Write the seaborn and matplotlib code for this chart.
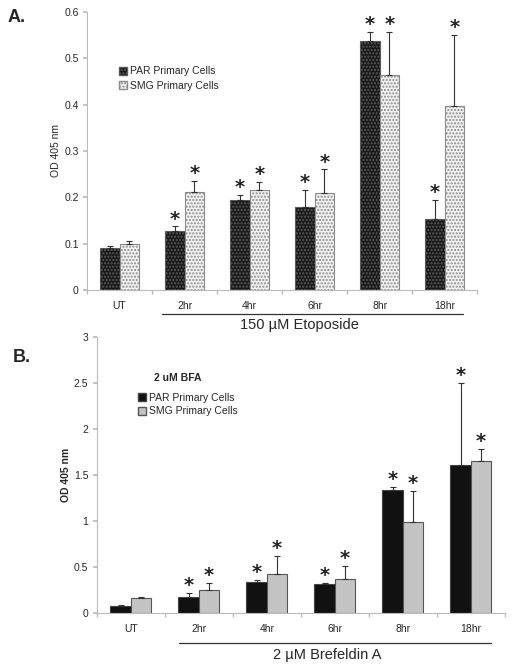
import matplotlib
matplotlib.use("Agg")
import matplotlib.pyplot as plt
import seaborn as sns
import pandas as pd
from matplotlib.lines import Line2D
from matplotlib.patches import Patch

# Panel A: 150 uM Etoposide
times = ["UT", "2hr", "4hr", "6hr", "8hr", "18hr"]
series = ["PAR Primary Cells", "SMG Primary Cells"]
a_par = [0.090, 0.127, 0.194, 0.178, 0.538, 0.153]
a_par_err = [0.005, 0.010, 0.012, 0.038, 0.018, 0.041]
a_smg = [0.100, 0.211, 0.215, 0.210, 0.465, 0.397]
a_smg_err = [0.006, 0.025, 0.018, 0.050, 0.092, 0.153]
a_star = [False, True, True, True, True, True]

# Panel B: 2 uM Brefeldin A
b_par = [0.083, 0.174, 0.344, 0.319, 1.340, 1.610]
b_par_err = [0.005, 0.047, 0.020, 0.012, 0.030, 0.890]
b_smg = [0.163, 0.257, 0.424, 0.373, 0.993, 1.656]
b_smg_err = [0.015, 0.073, 0.200, 0.140, 0.340, 0.134]
b_star = [False, True, True, True, True, True]

sns.set_theme(style="white")
plt.rcParams["font.family"] = ["Liberation Sans", "DejaVu Sans"]


def make_df(par, smg):
    return pd.DataFrame({
        "Time": times * 2,
        "Cells": [series[0]] * len(times) + [series[1]] * len(times),
        "OD": par + smg,
    })


def draw_panel(ax, par, par_err, smg, smg_err, stars, styles, ymax, yticks,
               ylabel_bold, star_off):
    df = make_df(par, smg)
    sns.barplot(data=df, x="Time", y="OD", hue="Cells", order=times,
                hue_order=series, errorbar=None, width=0.6, ax=ax,
                legend=False)
    for cont, vals, errs, st in zip(ax.containers, [par, smg],
                                    [par_err, smg_err], styles):
        for patch in cont:
            patch.set_facecolor(st["fc"])
            patch.set_edgecolor(st["ec"])
            patch.set_hatch(st["hatch"])
            patch.set_linewidth(0.8)
        xs = [p.get_x() + p.get_width() / 2 for p in cont]
        ax.errorbar(xs, vals, yerr=[[0] * len(vals), errs], fmt="none",
                    ecolor="#333333", elinewidth=0.8, capsize=2.5,
                    capthick=0.8)
        for x, v, e, s in zip(xs, vals, errs, stars):
            if s:
                ax.text(x, v + e + star_off, "*", ha="center", va="center",
                        fontsize=14, fontweight="bold", color="#222222",
                        family="DejaVu Sans")
    ax.set_xlim(-0.5, len(times) - 0.5)
    ax.set_ylim(0, ymax)
    ax.set_yticks(yticks)
    ax.set_yticklabels([f"{t:g}" for t in yticks], fontsize=7.5)
    ax.tick_params(axis="x", labelsize=7.5, length=0, pad=8)
    ax.set_xticks(range(len(times)))
    ax.set_xticks([i - 0.5 for i in range(len(times) + 1)], minor=True)
    ax.tick_params(axis="x", which="minor", length=3, color="#bbbbbb",
                   bottom=True)
    ax.tick_params(axis="y", length=3, color="#bbbbbb", left=True, pad=3)
    ax.set_xlabel("")
    ax.set_ylabel("OD 405 nm", fontsize=7.5, labelpad=2,
                  fontweight="bold" if ylabel_bold else "normal")
    for side in ["top", "right"]:
        ax.spines[side].set_visible(False)
    for side in ["left", "bottom"]:
        ax.spines[side].set_color("#bbbbbb")
        ax.spines[side].set_linewidth(0.8)
    return ax


fig = plt.figure(figsize=(5.12, 6.68), dpi=100)
ax_a = fig.add_axes([0.170, 0.566, 0.762, 0.416])
ax_b = fig.add_axes([0.189, 0.082, 0.797, 0.413])

styles_a = [
    {"fc": "#1a1a1a", "ec": "#5a5a5a", "hatch": "....."},
    {"fc": "#f2f2f2", "ec": "#8a8a8a", "hatch": "....."},
]
styles_b = [
    {"fc": "#111111", "ec": "#444444", "hatch": ""},
    {"fc": "#c4c4c4", "ec": "#555555", "hatch": ""},
]

draw_panel(ax_a, a_par, a_par_err, a_smg, a_smg_err, a_star, styles_a,
           0.6, [0, 0.1, 0.2, 0.3, 0.4, 0.5, 0.6], False, 0.016)
draw_panel(ax_b, b_par, b_par_err, b_smg, b_smg_err, b_star, styles_b,
           3.0, [0, 0.5, 1, 1.5, 2, 2.5, 3], True, 0.08)

# legends
h_a = [Patch(facecolor=s["fc"], edgecolor=s["ec"], hatch=s["hatch"])
       for s in styles_a]
ax_a.legend(h_a, series, loc="upper left", bbox_to_anchor=(0.07, 0.82),
            frameon=False, fontsize=7.5, handlelength=0.8, handleheight=0.8,
            handletextpad=0.3, labelspacing=0.45, borderaxespad=0)
h_b = [Patch(facecolor=s["fc"], edgecolor=s["ec"]) for s in styles_b]
ax_b.legend(h_b, series, loc="upper left", bbox_to_anchor=(0.09, 0.815),
            frameon=False, fontsize=7.5, handlelength=0.8, handleheight=0.8,
            handletextpad=0.3, labelspacing=0.35, borderaxespad=0)
ax_b.text(0.14, 0.851, "2 uM BFA", transform=ax_b.transAxes, fontsize=7.5,
          fontweight="bold", ha="left", va="center")

# treatment brackets
fig.add_artist(Line2D([162 / 512, 463 / 512], [1 - 314 / 668, 1 - 314 / 668],
                      color="#333333", linewidth=0.9))
fig.text(299 / 512, 1 - 325 / 668, "150 \u00b5M Etoposide", fontsize=10.5,
         ha="center", va="center")
fig.add_artist(Line2D([179 / 512, 491 / 512], [1 - 643 / 668, 1 - 643 / 668],
                      color="#333333", linewidth=0.9))
fig.text(327 / 512, 1 - 655 / 668, "2 \u00b5M Brefeldin A", fontsize=10.5,
         ha="center", va="center")

# panel labels
fig.text(8 / 512, 1 - 18 / 668, "A.", fontsize=13, fontweight="bold",
         ha="left", va="center")
fig.text(13 / 512, 1 - 358 / 668, "B.", fontsize=13, fontweight="bold",
         ha="left", va="center")

fig.savefig("out.png", dpi=100)
